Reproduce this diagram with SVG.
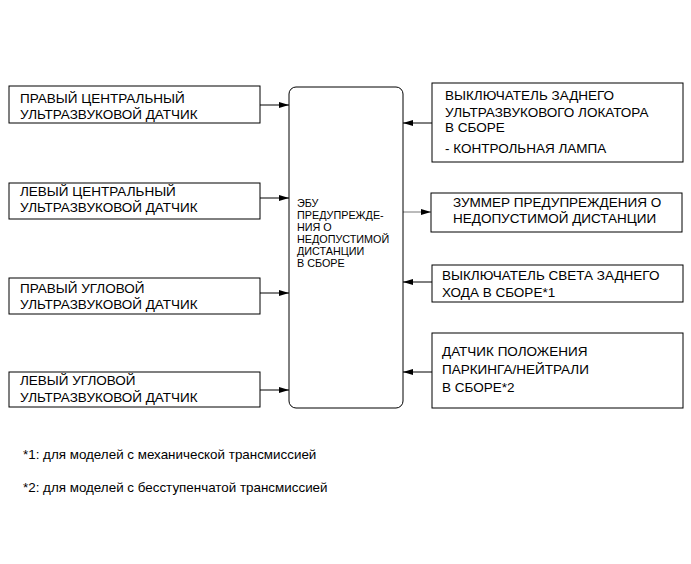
<svg xmlns="http://www.w3.org/2000/svg" width="691" height="564" viewBox="0 0 691 564">
<defs>
<style>
.box{fill:#fff;stroke:#000;stroke-width:1}
.t{font-family:"Liberation Sans",Arial,sans-serif;font-size:13.5px;fill:#000}
.ts{font-family:"Liberation Sans",Arial,sans-serif;font-size:10.8px;fill:#000}
.tf{font-family:"Liberation Sans",Arial,sans-serif;font-size:13.4px;fill:#000}
.ln{stroke:#000;stroke-width:1;fill:none}
.lg{stroke:#777;stroke-width:1;fill:none}
</style>
<marker id="ah" viewBox="0 0 10 6" refX="10" refY="3" markerWidth="10" markerHeight="6" markerUnits="userSpaceOnUse" orient="auto">
<path d="M0,0 L10,3 L0,6 Z" fill="#000"/>
</marker>
</defs>
<rect width="691" height="564" fill="#fff"/>
<g id="connectors">
<line class="ln" x1="260" y1="105" x2="289" y2="105" marker-end="url(#ah)"/>
<line class="ln" x1="260" y1="198" x2="289" y2="198" marker-end="url(#ah)"/>
<line class="ln" x1="260" y1="293" x2="289" y2="293" marker-end="url(#ah)"/>
<line class="ln" x1="260" y1="390" x2="289" y2="390" marker-end="url(#ah)"/>
<line class="ln" x1="432" y1="123" x2="403" y2="123" marker-end="url(#ah)"/>
<line class="lg" x1="403" y1="212" x2="431" y2="212" marker-end="url(#ah)"/>
<line class="ln" x1="432" y1="282" x2="403" y2="282" marker-end="url(#ah)"/>
<line class="ln" x1="432" y1="372" x2="403" y2="372" marker-end="url(#ah)"/>
</g>
<g id="ecu">
<rect class="box" x="289" y="87" width="114" height="321" rx="7" ry="7"/>
<text class="ts" x="297" y="207">ЭБУ</text>
<text class="ts" x="297" y="219">ПРЕДУПРЕЖДЕ-</text>
<text class="ts" x="297" y="231">НИЯ О</text>
<text class="ts" x="297" y="243">НЕДОПУСТИМОЙ</text>
<text class="ts" x="297" y="255">ДИСТАНЦИИ</text>
<text class="ts" x="297" y="267">В СБОРЕ</text>
</g>
<g id="n1">
<rect class="box" x="9" y="86" width="251" height="37"/>
<text class="t" x="20" y="103">ПРАВЫЙ ЦЕНТРАЛЬНЫЙ</text>
<text class="t" x="20" y="118.5">УЛЬТРАЗВУКОВОЙ ДАТЧИК</text>
</g>
<g id="n2">
<rect class="box" x="9" y="183" width="251" height="36"/>
<text class="t" x="20" y="196">ЛЕВЫЙ ЦЕНТРАЛЬНЫЙ</text>
<text class="t" x="20" y="211.5">УЛЬТРАЗВУКОВОЙ ДАТЧИК</text>
</g>
<g id="n3">
<rect class="box" x="9" y="278" width="251" height="36"/>
<text class="t" x="20" y="293">ПРАВЫЙ УГЛОВОЙ</text>
<text class="t" x="20" y="309">УЛЬТРАЗВУКОВОЙ ДАТЧИК</text>
</g>
<g id="n4">
<rect class="box" x="9" y="372" width="251" height="35"/>
<text class="t" x="20" y="385">ЛЕВЫЙ УГЛОВОЙ</text>
<text class="t" x="20" y="402">УЛЬТРАЗВУКОВОЙ ДАТЧИК</text>
</g>
<g id="n5">
<rect class="box" x="432" y="83" width="251" height="79"/>
<text class="t" x="445" y="100">ВЫКЛЮЧАТЕЛЬ ЗАДНЕГО</text>
<text class="t" x="445" y="116.5">УЛЬТРАЗВУКОВОГО ЛОКАТОРА</text>
<text class="t" x="445" y="132">В СБОРЕ</text>
<text class="t" x="445" y="153">- КОНТРОЛЬНАЯ ЛАМПА</text>
</g>
<g id="n6">
<rect class="box" x="431" y="193" width="251" height="39"/>
<text class="t" x="453" y="207">ЗУММЕР ПРЕДУПРЕЖДЕНИЯ О</text>
<text class="t" x="453" y="223">НЕДОПУСТИМОЙ ДИСТАНЦИИ</text>
</g>
<g id="n7">
<rect class="box" x="432" y="265" width="251" height="37"/>
<text class="t" x="442" y="280">ВЫКЛЮЧАТЕЛЬ СВЕТА ЗАДНЕГО</text>
<text class="t" x="442" y="296.5">ХОДА В СБОРЕ*1</text>
</g>
<g id="n8">
<rect class="box" x="432" y="333" width="251" height="75"/>
<text class="t" x="442" y="356">ДАТЧИК ПОЛОЖЕНИЯ</text>
<text class="t" x="442" y="374">ПАРКИНГА/НЕЙТРАЛИ</text>
<text class="t" x="442" y="391.5">В СБОРЕ*2</text>
</g>
<g id="notes">
<text class="tf" x="23" y="459">*1: для моделей с механической трансмиссией</text>
<text class="tf" x="23" y="492">*2: для моделей с бесступенчатой трансмиссией</text>
</g>
</svg>
